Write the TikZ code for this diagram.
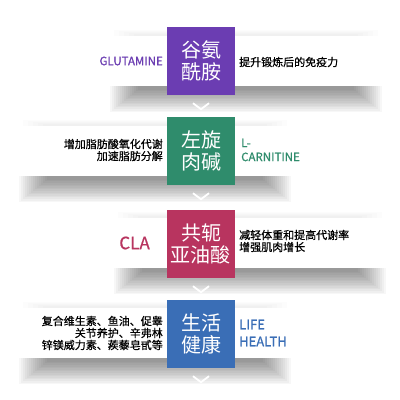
\documentclass[tikz,border=0pt]{standalone}
\usepackage{fontspec}
\setmainfont{Noto Sans CJK SC}
\newfontfamily\semibold{Noto Sans CJK SC}[FakeBold=0.7]
\definecolor{glnpurple}{HTML}{6B3DB2}
\definecolor{carngreen}{HTML}{2F8C6C}
\definecolor{clared}{HTML}{B8345F}
\definecolor{lifeblue}{HTML}{3A6EB6}
\begin{document}
\begin{tikzpicture}[x=1pt, y=-1pt,
  strip/.style={fill=white, minimum width=280pt, minimum height=50pt, inner sep=0pt},
  tile/.style={minimum width=68pt, minimum height=68pt, text=white,
    font=\fontsize{20}{22}\selectfont, align=center, inner sep=0pt},
  engl/.style={font=\semibold\fontsize{11.5}{14}\selectfont},
  desc/.style={font=\semibold\fontsize{11}{12}\selectfont, inner sep=0pt},
  chev/.style={white, line width=1.8pt}]
  % Canvas
  \fill[white] (0,0) rectangle (400,400);
  \useasboundingbox (0,0) rectangle (400,400);
  % White strips
  \node[strip] (s1) at (246,61) {};
  \node[strip] (s2) at (155,151) {};
  \node[strip] (s3) at (250,243) {};
  \node[strip] (s4) at (155,333) {};
  % Soft shadows (stacked layers)
  \foreach \s in {s1,s2,s3,s4} {
    \foreach \i in {0,...,14} {
      \fill[black, opacity=0.03]
        ([xshift=4pt+2*\i pt]\s.south west) rectangle ([xshift=-4pt-2*\i pt, yshift=-26pt+1.6*\i pt]\s.south east);
    }
    \foreach \i in {0,...,4} {
      \fill[black, opacity=0.012]
        ([xshift=8pt+5*\i pt, yshift=6pt-\i pt]\s.north west) rectangle ([xshift=-8pt-5*\i pt]\s.north east);
    }
  }
  % Coloured tiles
  \node[tile, fill=glnpurple] (t1) at (201,61) {谷氨\\酰胺};
  \node[tile, fill=carngreen] (t2) at (201,151) {左旋\\肉碱};
  \node[tile, fill=clared] (t3) at (201,244) {共轭\\亚油酸};
  \node[tile, fill=lifeblue] (t4) at (201,334) {生活\\健康};
  % Chevrons under the tiles
  \foreach \t in {1,...,4} {
    \draw[chev] ([xshift=-8pt, yshift=-8pt]t\t.south) coordinate (c\t a)
      -- ++(8,6) coordinate (c\t b) -- ++(8,-6) coordinate (c\t c);
  }
  % Band 1
  \node[engl, text=glnpurple, anchor=east, inner sep=0pt] (e1) at (163,61) {GLUTAMINE};
  \node[desc, anchor=west] (d1) at (239,62) {提升锻炼后的免疫力};
  % Band 2
  \node[desc, anchor=east, align=right] (d2) at (163,150) {增加脂肪酸氧化代谢\\加速脂肪分解};
  \node[engl, text=carngreen, anchor=west, align=left, inner sep=0pt] (e2) at (241,150) {L-\\CARNITINE};
  % Band 3
  \node[text=clared, anchor=east, inner sep=0pt, font=\semibold\fontsize{17}{20}\selectfont] (e3) at (150,243) {CLA};
  \node[desc, anchor=west, align=left] (d3) at (239,241) {减轻体重和提高代谢率\\增强肌肉增长};
  % Band 4
  \node[desc, anchor=east, align=right] (d4) at (163,333) {复合维生素、鱼油、促睾\\关节养护、辛弗林\\锌镁威力素、蒺藜皂甙等};
  \node[text=lifeblue, anchor=west, align=left, inner sep=0pt,
    font=\semibold\fontsize{13}{17}\selectfont] (e4) at (239,333) {LIFE\\HEALTH};
\end{tikzpicture}
\end{document}
